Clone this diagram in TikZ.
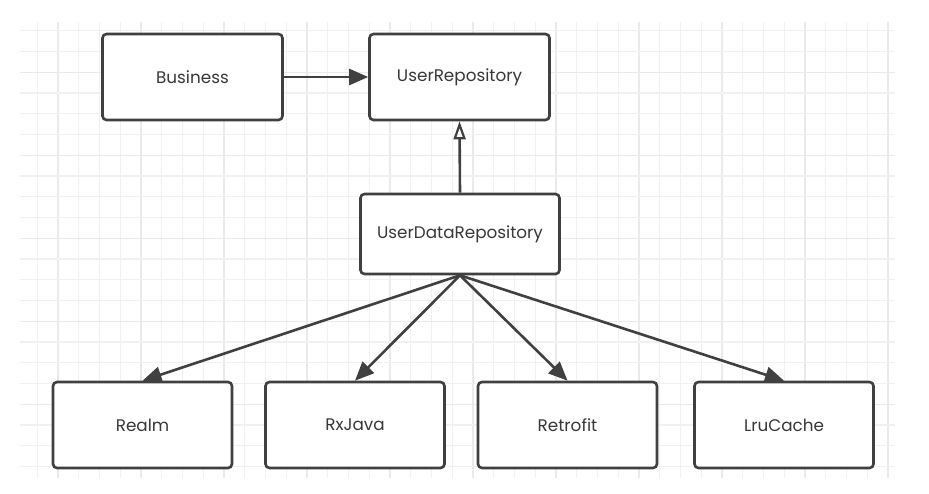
\documentclass[tikz,border=0pt]{standalone}
\usepackage{fontspec}
\setmainfont{Poppins}
\usetikzlibrary{arrows.meta}
\definecolor{linec}{HTML}{404040}
\definecolor{textc}{HTML}{383838}
\definecolor{gridminor}{HTML}{F1F1F1}
\definecolor{gridmajor}{HTML}{EAEAEA}
\begin{document}
\begin{tikzpicture}[x=1pt,y=-1pt,
  box/.style={draw=linec,line width=2.6pt,rounded corners=4pt,fill=white,minimum width=180pt,minimum height=86pt,inner sep=0pt,font=\fontsize{16.8}{18}\selectfont,text=textc},
  conn/.style={draw=linec,line width=2.6pt,-{Triangle[length=19pt,width=16pt]}},
  inh/.style={draw=linec,line width=2.6pt,-{Triangle[open,length=18pt,width=12pt,line width=2.2pt]}}]
\useasboundingbox (0,0) rectangle (929,493);
\fill[white] (0,0) rectangle (929,493);
% grid
\begin{scope}
\clip (20,22) rectangle (895,478);
\foreach \i in {0,...,42} {
  \pgfmathsetmacro{\xx}{37.3+\i*20.75}
  \pgfmathtruncatemacro{\m}{mod(\i+3,4)}
  \ifnum\m=0
    \draw[gridmajor,line width=1.4pt] (\xx,22) -- (\xx,478);
  \else
    \draw[gridminor,line width=1.1pt] (\xx,22) -- (\xx,478);
  \fi
}
\foreach \j in {0,...,21} {
  \pgfmathsetmacro{\yy}{30.7+\j*20.75}
  \pgfmathtruncatemacro{\m}{mod(\j+2,4)}
  \ifnum\m=0
    \draw[gridmajor,line width=1.4pt] (20,\yy) -- (895,\yy);
  \else
    \draw[gridminor,line width=1.1pt] (20,\yy) -- (895,\yy);
  \fi
}
\end{scope}
% nodes
\node[box] (bus) at (192.5,77) {Business};
\node[box] (ur) at (459.5,77) {UserRepository};
\node[box,minimum width=199pt,minimum height=80pt] (udr) at (460,234) {UserDataRepository};
\node[box,minimum width=179pt] (realm) at (142.5,425) {Realm};
\node[box,minimum width=179pt] (rx) at (355,425) {RxJava};
\node[box,minimum width=179pt] (retro) at (567.5,425) {Retrofit};
\node[box,minimum width=179pt] (lru) at (784,425) {LruCache};
% connectors
\draw[conn] (bus.east) -- (ur.west);
\draw[inh] (udr.north) -- (ur.south);
\draw[conn] (udr.south) -- (realm.north);
\draw[conn] (udr.south) -- (rx.north);
\draw[conn] (udr.south) -- (retro.north);
\draw[conn] (udr.south) -- (lru.north);
\end{tikzpicture}
\end{document}
